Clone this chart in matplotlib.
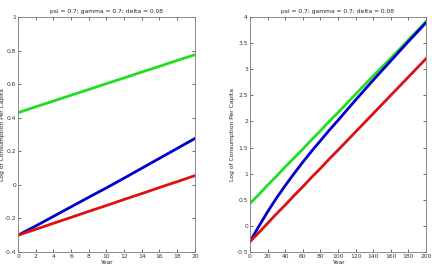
"""Log consumption per capita paths, short and long horizon."""

import matplotlib
matplotlib.use("Agg")
import matplotlib.pyplot as plt
from matplotlib.ticker import FormatStrFormatter, FuncFormatter

TITLE = "psi = 0.7; gamma = 0.7; delta = 0.08"
YLABEL = "Log of Consumption Per Capita"
XLABEL = "Year"

# short horizon (0-20 years)
years_short = [0, 2, 4, 6, 8, 10, 12, 14, 16, 18, 20]
green_short = [0.430, 0.465, 0.499, 0.534, 0.568, 0.603, 0.637, 0.672, 0.706, 0.741, 0.775]
blue_short = [-0.300, -0.245, -0.188, -0.131, -0.074, -0.018, 0.040, 0.099, 0.158, 0.217, 0.276]
red_short = [-0.300, -0.265, -0.229, -0.194, -0.158, -0.123, -0.087, -0.052, -0.016, 0.019, 0.055]

# long horizon (0-200 years)
years_long = [0, 10, 20, 30, 40, 50, 60, 70, 80, 90, 100, 120, 140, 160, 180, 200]
green_long = [0.43, 0.60, 0.78, 0.95, 1.13, 1.30, 1.47, 1.65, 1.82, 2.00, 2.17, 2.52, 2.87, 3.21, 3.56, 3.91]
blue_long = [-0.30, -0.01, 0.27, 0.53, 0.77, 1.00, 1.22, 1.43, 1.63, 1.83, 2.02, 2.41, 2.79, 3.16, 3.53, 3.89]
red_long = [-0.30, -0.13, 0.05, 0.23, 0.40, 0.58, 0.75, 0.93, 1.10, 1.28, 1.45, 1.80, 2.15, 2.50, 2.85, 3.20]

GREEN = "#22dd22"
BLUE = "#0000cc"
RED = "#dd1111"
EDGE = "#7a7a7a"
FS = 4.3


def style_axes(ax, xlim, ylim, xticks, yticks, ylabel_x):
    ax.set_xlim(*xlim)
    ax.set_ylim(*ylim)
    ax.set_xticks(xticks)
    ax.set_yticks(yticks)
    ax.xaxis.set_major_formatter(FormatStrFormatter("%g"))
    ax.yaxis.set_major_formatter(FuncFormatter(lambda v, p: f"{v:g}"))
    ax.tick_params(direction="in", top=True, right=True, length=2.5, width=0.5,
                   labelsize=FS, colors="#333333", pad=1.5)
    for s in ax.spines.values():
        s.set_color(EDGE)
        s.set_linewidth(0.6)
    ax.set_title(TITLE, fontsize=FS, pad=3, color="#222222")
    ax.set_xlabel(XLABEL, fontsize=FS, labelpad=1, color="#222222")
    ax.set_ylabel(YLABEL, fontsize=FS, color="#222222")
    ax.yaxis.set_label_coords(ylabel_x, 0.5)


fig = plt.figure(figsize=(4.32, 2.74), dpi=100)
ax1 = fig.add_axes([0.0417, 0.0803, 0.4093, 0.8577])
ax2 = fig.add_axes([0.5787, 0.0803, 0.4073, 0.8577])

lw = 2.0
ax1.plot(years_short, green_short, color=GREEN, lw=lw)
ax1.plot(years_short, blue_short, color=BLUE, lw=lw)
ax1.plot(years_short, red_short, color=RED, lw=lw)
style_axes(ax1, (0, 20), (-0.4, 1.0), range(0, 21, 2),
           [-0.4, -0.2, 0, 0.2, 0.4, 0.6, 0.8, 1.0], -0.075)

ax2.plot(years_long, green_long, color=GREEN, lw=lw)
ax2.plot(years_long, blue_long, color=BLUE, lw=lw)
ax2.plot(years_long, red_long, color=RED, lw=lw)
style_axes(ax2, (0, 200), (-0.5, 4.0), range(0, 201, 20),
           [-0.5, 0, 0.5, 1, 1.5, 2, 2.5, 3, 3.5, 4], -0.085)

fig.savefig("out.png", dpi=100)
